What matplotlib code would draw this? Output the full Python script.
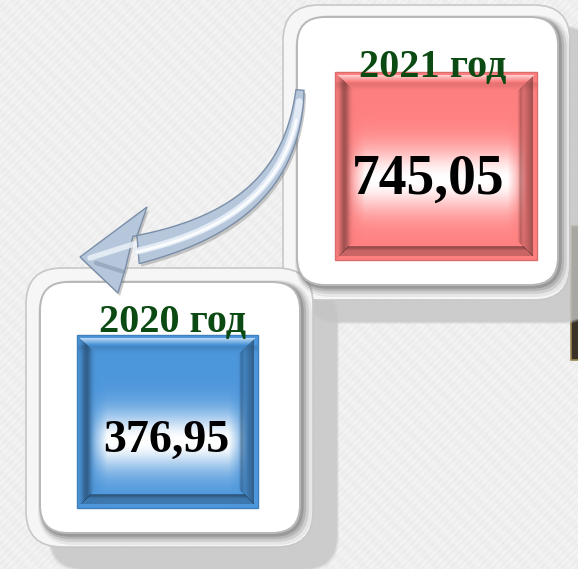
import matplotlib.pyplot as plt
import numpy as np
from matplotlib.patches import FancyBboxPatch, Rectangle, Polygon

years = ['2021 год', '2020 год']
values = [745.05, 376.95]
face_colors = [(1.0, 0.50, 0.50), (0.30, 0.59, 0.86)]

W, H = 578, 569
fig = plt.figure(figsize=(W / 100, H / 100), dpi=100)
ax = fig.add_axes([0, 0, 1, 1])
ax.set_xlim(0, W)
ax.set_ylim(H, 0)
ax.axis('off')

# background with faint diagonal texture
yy, xx = np.mgrid[0:H, 0:W]
bg = 0.94 + 0.012 * np.sin((xx + yy) * 0.9) + 0.008 * np.sin((xx - yy) * 0.35)
ax.imshow(np.dstack([bg, bg, bg]), extent=(0, W, H, 0), zorder=0)


def card(x0, y0, x1, y1, inner):
    w, h = x1 - x0, y1 - y0
    # drop shadow, offset down-right
    for i, a in enumerate([0.25, 0.35, 0.6]):
        ax.add_patch(FancyBboxPatch((x0 + 24, y0 + 22), w, h,
                                    boxstyle=f"round,pad={2 - i},rounding_size=34",
                                    fc='#c4c4c4', ec='none', alpha=a, zorder=1))
    ax.add_patch(FancyBboxPatch((x0, y0), w, h, boxstyle="round,pad=0,rounding_size=36",
                                fc='#f6f6f6', ec='#c8c8c8', lw=1.2, zorder=2))
    ix0, iy0, ix1, iy1 = inner
    # bevel shading of the ring (darker at bottom-right)
    for off, lw, a in [(5, 10, 0.10), (4, 7, 0.16), (3, 4.5, 0.22), (2, 2.5, 0.3)]:
        ax.add_patch(FancyBboxPatch((ix0 + off, iy0 + off), ix1 - ix0, iy1 - iy0,
                                    boxstyle="round,pad=0,rounding_size=28",
                                    fc='none', ec='#5a5a5a', lw=lw, alpha=a, zorder=3))
    ax.add_patch(FancyBboxPatch((ix0, iy0), ix1 - ix0, iy1 - iy0,
                                boxstyle="round,pad=0,rounding_size=28",
                                fc='white', ec='#b8b8b8', lw=1.4, zorder=4))


def tile(x0, y0, x1, y1, base, glow_y):
    w, h = int(x1 - x0), int(y1 - y0)
    ty, tx = np.mgrid[0:h, 0:w].astype(float)
    base = np.array(base)
    img = np.ones((h, w, 3)) * base
    # white glow band behind the value
    gy = np.exp(-((ty - glow_y * h) / (0.17 * h)) ** 2)
    gx = np.clip((np.minimum(tx, w - tx) - 10) / 20.0, 0, 1)
    g = (gy * gx)[..., None]
    img = img * (1 - g) + g
    # bevelled frame
    dl, dr, dt, db = tx, w - 1 - tx, ty, h - 1 - ty
    dmin = np.minimum(np.minimum(dl, dr), np.minimum(dt, db))
    dark_col = base * 0.35
    left = np.exp(-((dl - 9) / 5.0) ** 2) * 0.55 * (dl == dmin)
    right = (np.clip((18 - dr) / 14.0, 0, 1) * 0.55 + np.exp(-((dr - 16) / 2.0) ** 2) * 0.3) * (dr == dmin) * (dr > 3)
    bottom = (0.32 + np.exp(-((db - 12) / 2.0) ** 2) * 0.3) * (db == dmin) * (db > 3) * (db < 14)
    dark = np.clip(left + right + bottom, 0, 0.85)[..., None]
    img = img * (1 - dark) + dark_col * dark
    top = (np.clip((9 - dt) / 6.0, 0, 1) * 0.6 * (dt == dmin) * (dt > 2))[..., None]
    img = img * (1 - top) + top
    # soft shadow under the top frame
    ts = (np.exp(-((dt - 12) / 4.0) ** 2) * 0.15 * (dt > 9))[..., None]
    img = img * (1 - ts) + dark_col * ts
    ax.imshow(np.clip(img, 0, 1), extent=(x0, x1, y1, y0), zorder=5, interpolation='bilinear')
    ax.add_patch(Rectangle((x0, y0), x1 - x0, y1 - y0, fc='none',
                           ec=tuple(base * 0.85), lw=1, zorder=6))


# right edge dark strip
ax.add_patch(Rectangle((571, 226), 10, 134, fc='#3a3226', ec='#9a8450', lw=1.2, zorder=1))

card(283, 5, 570, 300, (297, 17, 558, 285))
card(26, 268, 313, 547, (40, 282, 300, 533))

tile(335, 72, 537, 260, face_colors[0], 0.57)
tile(77, 335, 258, 508, face_colors[1], 0.61)

font = 'Liberation Serif'
ax.text(433, 67, years[0], ha='center', va='center', fontsize=29, fontweight='bold',
        color='#0b4a12', family=font, zorder=8)
ax.text(428, 180, f'{values[0]:.2f}'.replace('.', ','), ha='center', va='center',
        fontsize=40, fontweight='bold', color='black', family=font, zorder=8)
ax.text(173, 322, years[1], ha='center', va='center', fontsize=29, fontweight='bold',
        color='#0b4a12', family=font, zorder=8)
ax.text(166, 441, f'{values[1]:.2f}'.replace('.', ','), ha='center', va='center',
        fontsize=33, fontweight='bold', color='black', family=font, zorder=8)

# curved arrow from 2021 card toward 2020 card
t = np.linspace(0, 1, 80)
P = np.array([[300, 90], [292, 195], [215, 232], [136, 250]], float)
c = ((1 - t) ** 3)[:, None] * P[0] + (3 * (1 - t) ** 2 * t)[:, None] * P[1] \
    + (3 * (1 - t) * t ** 2)[:, None] * P[2] + (t ** 3)[:, None] * P[3]
d = np.gradient(c, axis=0)
n = np.stack([-d[:, 1], d[:, 0]], axis=1)
n /= np.linalg.norm(n, axis=1)[:, None]
half = 4 + 10 * t ** 0.8
side_a = c + n * half[:, None]
side_b = c - n * half[:, None]
head = np.array([[137, 236], [147, 207], [80, 257], [118, 293], [126, 266]], float)
outline = np.vstack([side_b, head, side_a[::-1]])
# shadow
ax.add_patch(Polygon(outline + [2, 3], closed=True, fc='#6c6c6c', ec='none', alpha=0.35, zorder=9))
ax.add_patch(Polygon(outline, closed=True, fc='#b6c7db', ec='#7a8ea8', lw=1.0, zorder=10))
ax.plot(c[3:, 0] - n[3:, 0] * half[3:] * 0.1, c[3:, 1] - n[3:, 1] * half[3:] * 0.1,
        color='#e6eef8', lw=5, alpha=0.9, solid_capstyle='round', zorder=11)
ax.plot(c[8:, 0] - n[8:, 0] * half[8:] * 0.15, c[8:, 1] - n[8:, 1] * half[8:] * 0.15,
        color='white', lw=2, alpha=0.9, solid_capstyle='round', zorder=11)
ax.plot([134, 90], [244, 258], color='#eef3fa', lw=4, alpha=0.8, solid_capstyle='round', zorder=11)
ax.plot([124, 96], [272, 263], color='#8799b0', lw=3, alpha=0.6, solid_capstyle='round', zorder=11)

fig.savefig('out.png', dpi=100)
